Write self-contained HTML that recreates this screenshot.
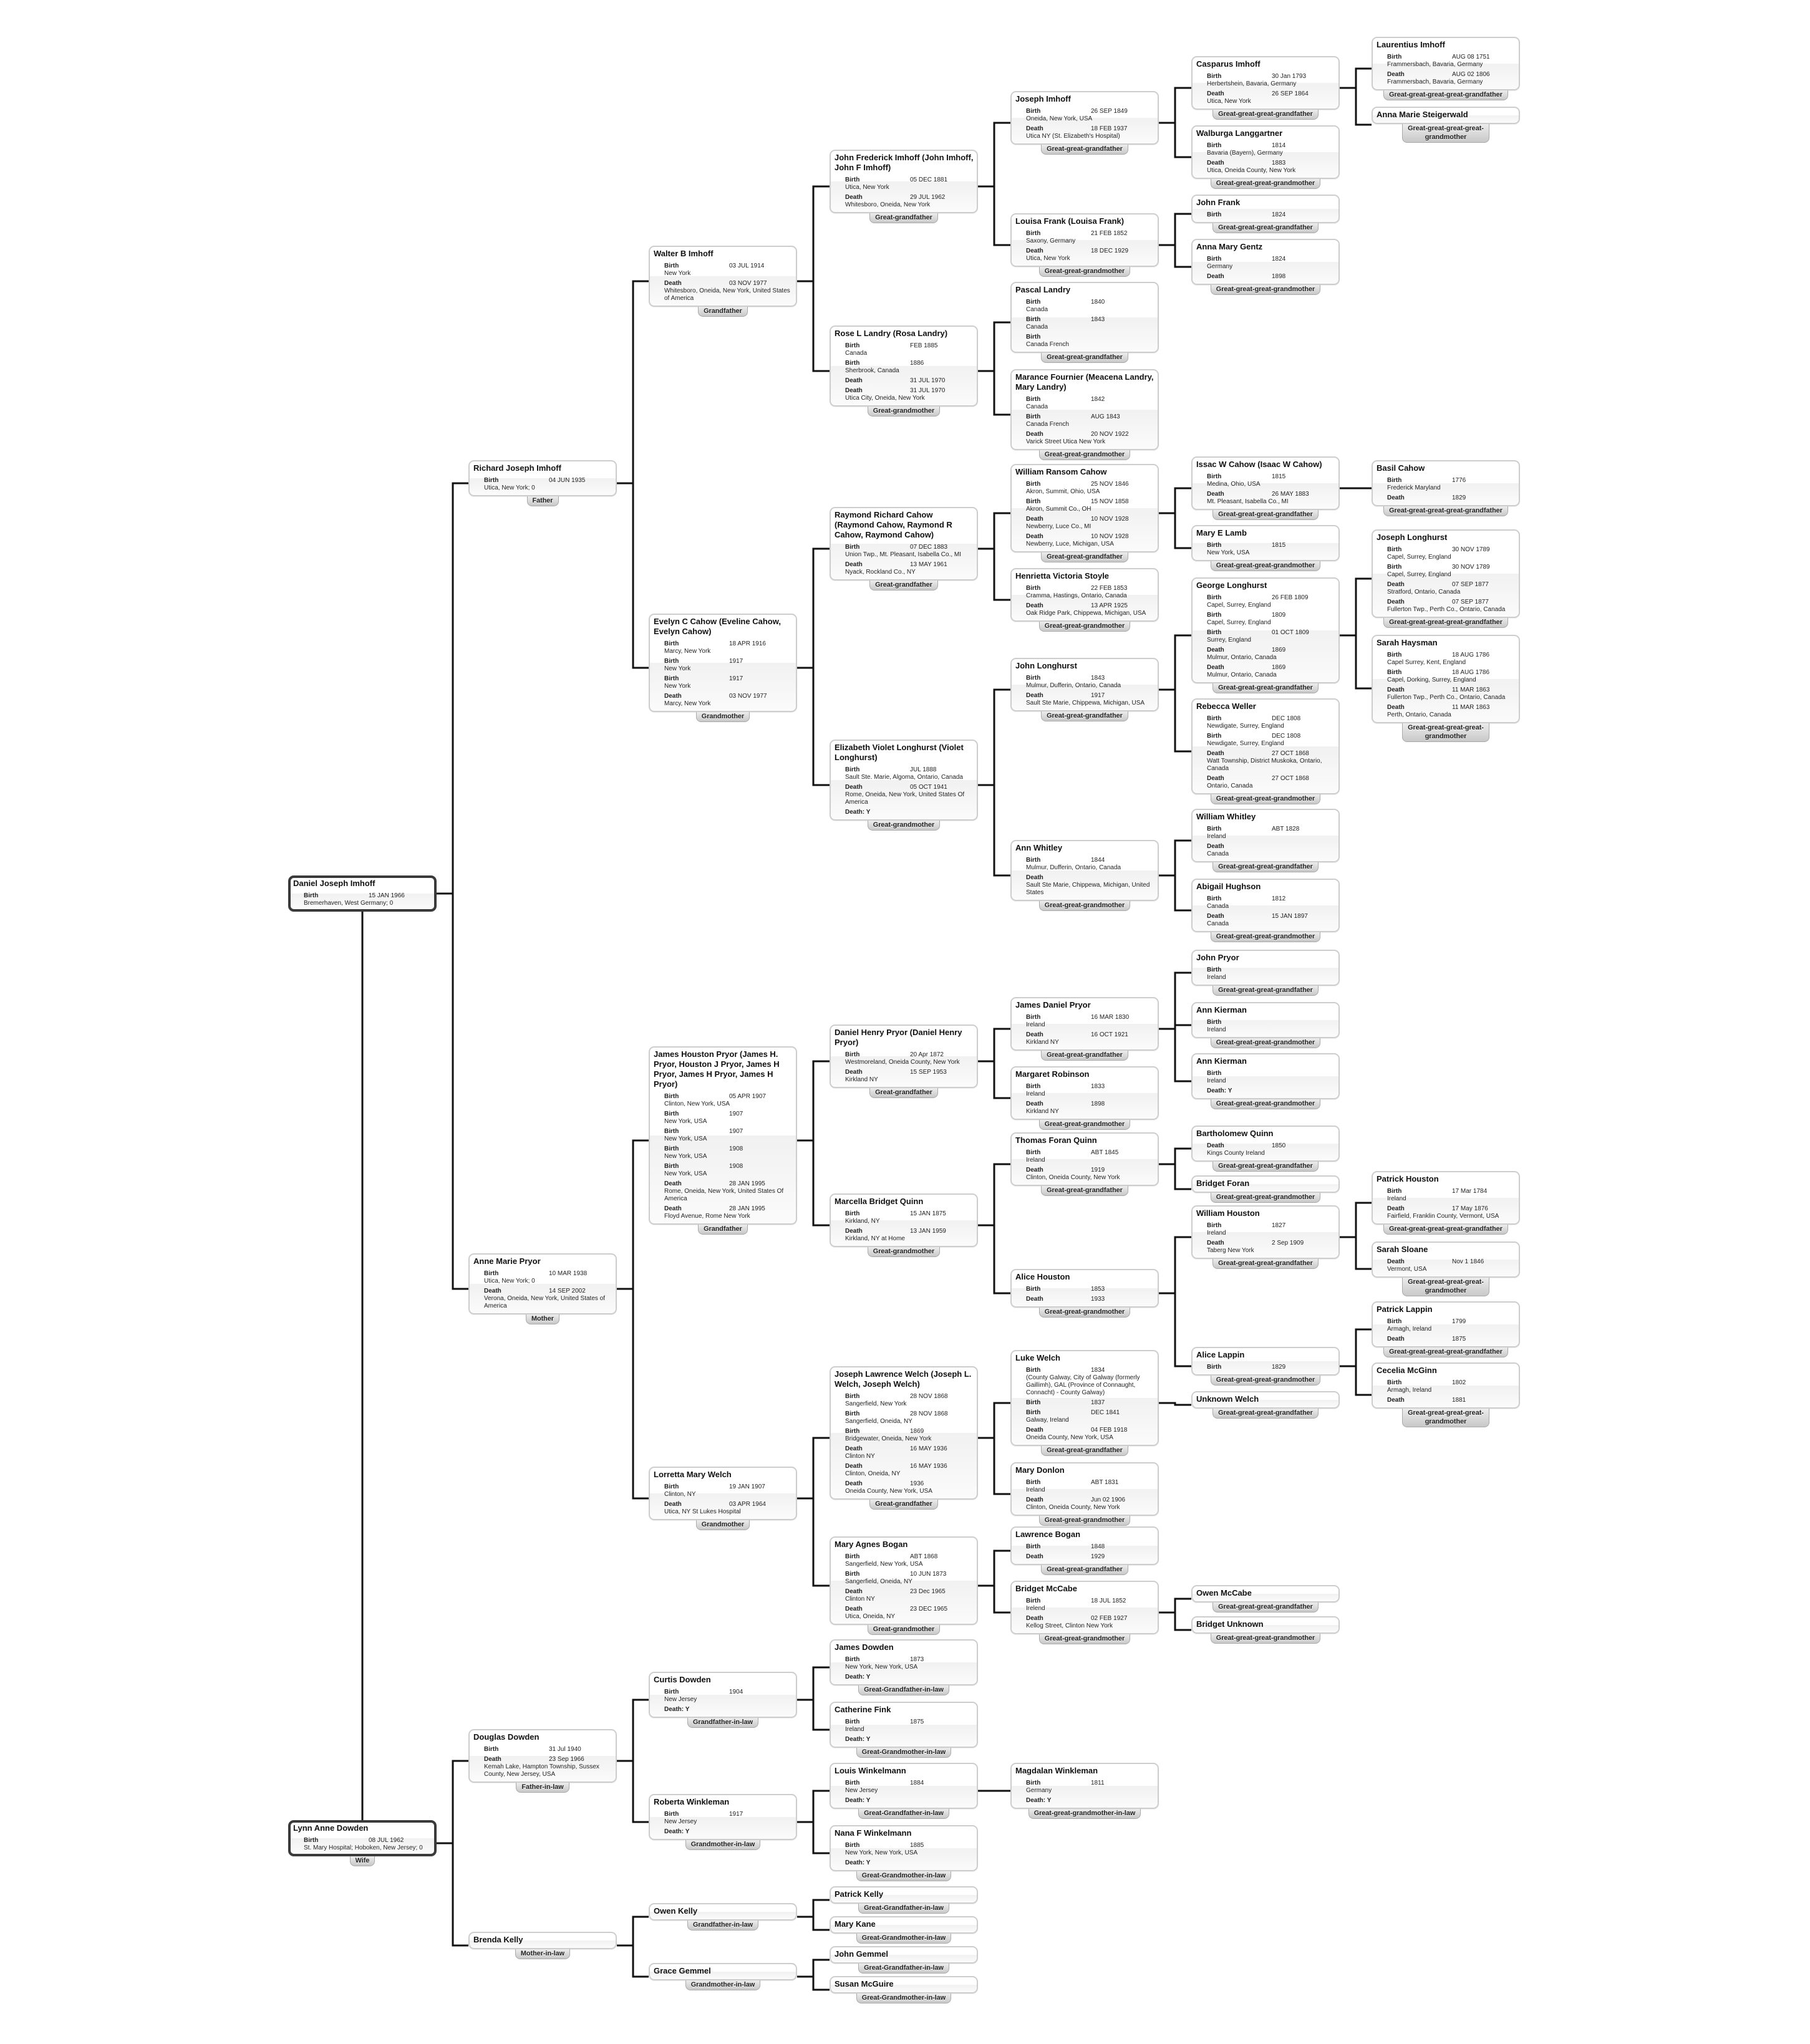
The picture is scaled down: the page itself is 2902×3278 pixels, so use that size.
<!DOCTYPE html>
<html><head><meta charset="utf-8">
<style>
html,body{margin:0;padding:0;background:#fff;}
body{width:2902px;height:3278px;position:relative;overflow:hidden;font-family:"Liberation Sans",Arial,sans-serif;color:#111;}
svg{position:absolute;left:0;top:0;}
.p{position:absolute;width:238px;z-index:2;}
.c{box-sizing:border-box;width:238px;border:2px solid #cdcdcd;border-radius:9px;background:linear-gradient(#fff 0,#fff 50%,#f1f1f1 50%,#fbfbfb 100%);padding:3px 5px 5px 6px;box-shadow:0 1px 1px rgba(0,0,0,.08);}
.c.me{border:4px solid #3a3a3a;padding:1px 3px 3px 4px;}
.n{font-weight:bold;font-size:13px;line-height:16px;}
.ev{padding-left:17px;font-size:10px;line-height:12px;color:#222;}
.e{margin-top:4px;}
.e:first-child{margin-top:6px;}
.l{display:inline-block;width:104px;font-weight:bold;}
.t{text-align:center;line-height:0;}
.tag{display:inline-block;font-size:10.8px;font-weight:bold;line-height:14px;padding:0 8px 1px;background:linear-gradient(#ececec,#c8c8c8);border:1px solid #a9a9a9;border-top:none;border-radius:0 0 8px 8px;color:#222;text-shadow:0 1px 0 #fff;max-width:200px;}
</style></head><body>
<svg id="s" width="2902" height="3278"></svg>
<div id="root"></div>
<script>
var X=[462,751,1040,1330,1620,1910,2199];
var P=[
["daniel",0,1404,"Daniel Joseph Imhoff","","Birth|15 JAN 1966|Bremerhaven, West Germany; 0"],
["lynn",0,2919,"Lynn Anne Dowden","Wife","Birth|08 JUL 1962|St. Mary Hospital; Hoboken, New Jersey; 0"],
["richard",1,738,"Richard Joseph Imhoff","Father","Birth|04 JUN 1935|Utica, New York; 0"],
["anne",1,2010,"Anne Marie Pryor","Mother","Birth|10 MAR 1938|Utica, New York; 0~Death|14 SEP 2002|Verona, Oneida, New York, United States of America"],
["douglas",1,2773,"Douglas Dowden","Father-in-law","Birth|31 Jul 1940|~Death|23 Sep 1966|Kemah Lake, Hampton Township, Sussex County, New Jersey, USA"],
["brenda",1,3098,"Brenda Kelly","Mother-in-law",""],
["walter",2,394,"Walter B Imhoff","Grandfather","Birth|03 JUL 1914|New York~Death|03 NOV 1977|Whitesboro, Oneida, New York, United States of America"],
["evelyn",2,984,"Evelyn C Cahow (Eveline Cahow, Evelyn Cahow)","Grandmother","Birth|18 APR 1916|Marcy, New York~Birth|1917|New York~Birth|1917|New York~Death|03 NOV 1977|Marcy, New York"],
["jhp",2,1678,"James Houston Pryor (James H. Pryor, Houston J Pryor, James H Pryor, James H Pryor, James H Pryor)","Grandfather","Birth|05 APR 1907|Clinton, New York, USA~Birth|1907|New York, USA~Birth|1907|New York, USA~Birth|1908|New York, USA~Birth|1908|New York, USA~Death|28 JAN 1995|Rome, Oneida, New York, United States Of America~Death|28 JAN 1995|Floyd Avenue, Rome New York"],
["lorretta",2,2352,"Lorretta Mary Welch","Grandmother","Birth|19 JAN 1907|Clinton, NY~Death|03 APR 1964|Utica, NY St Lukes Hospital"],
["curtis",2,2681,"Curtis Dowden","Grandfather-in-law","Birth|1904|New Jersey~Death: Y"],
["roberta",2,2877,"Roberta Winkleman","Grandmother-in-law","Birth|1917|New Jersey~Death: Y"],
["owen",2,3052,"Owen Kelly","Grandfather-in-law",""],
["grace",2,3148,"Grace Gemmel","Grandmother-in-law",""],
["jfi",3,240,"John Frederick Imhoff (John Imhoff, John F Imhoff)","Great-grandfather","Birth|05 DEC 1881|Utica, New York~Death|29 JUL 1962|Whitesboro, Oneida, New York"],
["rose",3,522,"Rose L Landry (Rosa Landry)","Great-grandmother","Birth|FEB 1885|Canada~Birth|1886|Sherbrook, Canada~Death|31 JUL 1970|~Death|31 JUL 1970|Utica City, Oneida, New York"],
["raymond",3,813,"Raymond Richard Cahow (Raymond Cahow, Raymond R Cahow, Raymond Cahow)","Great-grandfather","Birth|07 DEC 1883|Union Twp., Mt. Pleasant, Isabella Co., MI~Death|13 MAY 1961|Nyack, Rockland Co., NY"],
["elizabeth",3,1186,"Elizabeth Violet Longhurst (Violet Longhurst)","Great-grandmother","Birth|JUL 1888|Sault Ste. Marie, Algoma, Ontario, Canada~Death|05 OCT 1941|Rome, Oneida, New York, United States Of America~Death: Y"],
["dhp",3,1643,"Daniel Henry Pryor (Daniel Henry Pryor)","Great-grandfather","Birth|20 Apr 1872|Westmoreland, Oneida County, New York~Death|15 SEP 1953|Kirkland NY"],
["marcella",3,1914,"Marcella Bridget Quinn","Great-grandmother","Birth|15 JAN 1875|Kirkland, NY~Death|13 JAN 1959|Kirkland, NY at Home"],
["jlw",3,2191,"Joseph Lawrence Welch (Joseph L. Welch, Joseph Welch)","Great-grandfather","Birth|28 NOV 1868|Sangerfield, New York~Birth|28 NOV 1868|Sangerfield, Oneida, NY~Birth|1869|Bridgewater, Oneida, New York~Death|16 MAY 1936|Clinton NY~Death|16 MAY 1936|Clinton, Oneida, NY~Death|1936|Oneida County, New York, USA"],
["mab",3,2464,"Mary Agnes Bogan","Great-grandmother","Birth|ABT 1868|Sangerfield, New York, USA~Birth|10 JUN 1873|Sangerfield, Oneida, NY~Death|23 Dec 1965|Clinton NY~Death|23 DEC 1965|Utica, Oneida, NY"],
["jdowden",3,2629,"James Dowden","Great-Grandfather-in-law","Birth|1873|New York, New York, USA~Death: Y"],
["cfink",3,2729,"Catherine Fink","Great-Grandmother-in-law","Birth|1875|Ireland~Death: Y"],
["louis",3,2827,"Louis Winkelmann","Great-Grandfather-in-law","Birth|1884|New Jersey~Death: Y"],
["nana",3,2927,"Nana F Winkelmann","Great-Grandmother-in-law","Birth|1885|New York, New York, USA~Death: Y"],
["pkelly",3,3025,"Patrick Kelly","Great-Grandfather-in-law",""],
["mkane",3,3073,"Mary Kane","Great-Grandmother-in-law",""],
["jgemmel",3,3121,"John Gemmel","Great-Grandfather-in-law",""],
["smcguire",3,3169,"Susan McGuire","Great-Grandmother-in-law",""],
["jimhoff",4,146,"Joseph Imhoff","Great-great-grandfather","Birth|26 SEP 1849|Oneida, New York, USA~Death|18 FEB 1937|Utica NY (St. Elizabeth's Hospital)"],
["louisa",4,342,"Louisa Frank (Louisa Frank)","Great-great-grandmother","Birth|21 FEB 1852|Saxony, Germany~Death|18 DEC 1929|Utica, New York"],
["pascal",4,452,"Pascal Landry","Great-great-grandfather","Birth|1840|Canada~Birth|1843|Canada~Birth||Canada French"],
["marance",4,592,"Marance Fournier (Meacena Landry, Mary Landry)","Great-great-grandmother","Birth|1842|Canada~Birth|AUG 1843|Canada French~Death|20 NOV 1922|Varick Street Utica New York"],
["wrc",4,744,"William Ransom Cahow","Great-great-grandfather","Birth|25 NOV 1846|Akron, Summit, Ohio, USA~Birth|15 NOV 1858|Akron, Summit Co., OH~Death|10 NOV 1928|Newberry, Luce Co., MI~Death|10 NOV 1928|Newberry, Luce, Michigan, USA"],
["hvs",4,911,"Henrietta Victoria Stoyle","Great-great-grandmother","Birth|22 FEB 1853|Cramma, Hastings, Ontario, Canada~Death|13 APR 1925|Oak Ridge Park, Chippewa, Michigan, USA"],
["jlong",4,1055,"John Longhurst","Great-great-grandfather","Birth|1843|Mulmur, Dufferin, Ontario, Canada~Death|1917|Sault Ste Marie, Chippewa, Michigan, USA"],
["awhit",4,1347,"Ann Whitley","Great-great-grandmother","Birth|1844|Mulmur, Dufferin, Ontario, Canada~Death||Sault Ste Marie, Chippewa, Michigan, United States"],
["jdp",4,1599,"James Daniel Pryor","Great-great-grandfather","Birth|16 MAR 1830|Ireland~Death|16 OCT 1921|Kirkland NY"],
["margaret",4,1710,"Margaret Robinson","Great-great-grandmother","Birth|1833|Ireland~Death|1898|Kirkland NY"],
["tfq",4,1816,"Thomas Foran Quinn","Great-great-grandfather","Birth|ABT 1845|Ireland~Death|1919|Clinton, Oneida County, New York"],
["ahouston",4,2035,"Alice Houston","Great-great-grandmother","Birth|1853|~Death|1933|"],
["luke",4,2165,"Luke Welch","Great-great-grandfather","Birth|1834|(County Galway, City of Galway (formerly Gaillimh), GAL (Province of Connaught, Connacht) - County Galway)~Birth|1837|~Birth|DEC 1841|Galway, Ireland~Death|04 FEB 1918|Oneida County, New York, USA"],
["mdonlon",4,2345,"Mary Donlon","Great-great-grandmother","Birth|ABT 1831|Ireland~Death|Jun 02 1906|Clinton, Oneida County, New York"],
["lbogan",4,2448,"Lawrence Bogan","Great-great-grandfather","Birth|1848|~Death|1929|"],
["bmccabe",4,2535,"Bridget McCabe","Great-great-grandmother","Birth|18 JUL 1852|Irelend~Death|02 FEB 1927|Kellog Street, Clinton New York"],
["magdalan",4,2827,"Magdalan Winkleman","Great-great-grandmother-in-law","Birth|1811|Germany~Death: Y"],
["casparus",5,90,"Casparus Imhoff","Great-great-great-grandfather","Birth|30 Jan 1793|Herbertshein, Bavaria, Germany~Death|26 SEP 1864|Utica, New York"],
["walburga",5,201,"Walburga Langgartner","Great-great-great-grandmother","Birth|1814|Bavaria (Bayern), Germany~Death|1883|Utica, Oneida County, New York"],
["jfrank",5,312,"John Frank","Great-great-great-grandfather","Birth|1824|"],
["amgentz",5,383,"Anna Mary Gentz","Great-great-great-grandmother","Birth|1824|Germany~Death|1898|"],
["issac",5,732,"Issac W Cahow (Isaac W Cahow)","Great-great-great-grandfather","Birth|1815|Medina, Ohio, USA~Death|26 MAY 1883|Mt. Pleasant, Isabella Co., MI"],
["melamb",5,842,"Mary E Lamb","Great-great-great-grandmother","Birth|1815|New York, USA"],
["george",5,926,"George Longhurst","Great-great-great-grandfather","Birth|26 FEB 1809|Capel, Surrey, England~Birth|1809|Capel, Surrey, England~Birth|01 OCT 1809|Surrey, England~Death|1869|Mulmur, Ontario, Canada~Death|1869|Mulmur, Ontario, Canada"],
["rebecca",5,1120,"Rebecca Weller","Great-great-great-grandmother","Birth|DEC 1808|Newdigate, Surrey, England~Birth|DEC 1808|Newdigate, Surrey, England~Death|27 OCT 1868|Watt Township, District Muskoka, Ontario, Canada~Death|27 OCT 1868|Ontario, Canada"],
["wwhit",5,1297,"William Whitley","Great-great-great-grandfather","Birth|ABT 1828|Ireland~Death||Canada"],
["abigail",5,1409,"Abigail Hughson","Great-great-great-grandmother","Birth|1812|Canada~Death|15 JAN 1897|Canada"],
["jpryor",5,1523,"John Pryor","Great-great-great-grandfather","Birth||Ireland"],
["ak1",5,1607,"Ann Kierman","Great-great-great-grandmother","Birth||Ireland"],
["ak2",5,1689,"Ann Kierman","Great-great-great-grandmother","Birth||Ireland~Death: Y"],
["bquinn",5,1805,"Bartholomew Quinn","Great-great-great-grandfather","Death|1850|Kings County Ireland"],
["bforan",5,1885,"Bridget Foran","Great-great-great-grandmother",""],
["whouston",5,1933,"William Houston","Great-great-great-grandfather","Birth|1827|Ireland~Death|2 Sep 1909|Taberg New York"],
["alappin",5,2160,"Alice Lappin","Great-great-great-grandmother","Birth|1829|"],
["uwelch",5,2231,"Unknown Welch","Great-great-great-grandfather",""],
["omccabe",5,2542,"Owen McCabe","Great-great-great-grandfather",""],
["bunknown",5,2592,"Bridget Unknown","Great-great-great-grandmother",""],
["laurentius",6,59,"Laurentius Imhoff","Great-great-great-great-grandfather","Birth|AUG 08 1751|Frammersbach, Bavaria, Germany~Death|AUG 02 1806|Frammersbach, Bavaria, Germany"],
["amsteig",6,171,"Anna Marie Steigerwald","Great-great-great-great-<br>grandmother",""],
["basil",6,738,"Basil Cahow","Great-great-great-great-grandfather","Birth|1776|Frederick Maryland~Death|1829|"],
["jlonghurst",6,849,"Joseph Longhurst","Great-great-great-great-grandfather","Birth|30 NOV 1789|Capel, Surrey, England~Birth|30 NOV 1789|Capel, Surrey, England~Death|07 SEP 1877|Stratford, Ontario, Canada~Death|07 SEP 1877|Fullerton Twp., Perth Co., Ontario, Canada"],
["shaysman",6,1018,"Sarah Haysman","Great-great-great-great-<br>grandmother","Birth|18 AUG 1786|Capel Surrey, Kent, England~Birth|18 AUG 1786|Capel, Dorking, Surrey, England~Death|11 MAR 1863|Fullerton Twp., Perth Co., Ontario, Canada~Death|11 MAR 1863|Perth, Ontario, Canada"],
["phouston",6,1878,"Patrick Houston","Great-great-great-great-grandfather","Birth|17 Mar 1784|Ireland~Death|17 May 1876|Fairfield, Franklin County, Vermont, USA"],
["ssloane",6,1991,"Sarah Sloane","Great-great-great-great-<br>grandmother","Death|Nov 1 1846|Vermont, USA"],
["plappin",6,2087,"Patrick Lappin","Great-great-great-great-grandfather","Birth|1799|Armagh, Ireland~Death|1875|"],
["cmcginn",6,2185,"Cecelia McGinn","Great-great-great-great-<br>grandmother","Birth|1802|Armagh, Ireland~Death|1881|"]
];
var R=[["daniel","richard","anne"],["lynn","douglas","brenda"],["richard","walter","evelyn"],["anne","jhp","lorretta"],["douglas","curtis","roberta"],["brenda","owen","grace"],
["walter","jfi","rose"],["evelyn","raymond","elizabeth"],["jhp","dhp","marcella"],["lorretta","jlw","mab"],["curtis","jdowden","cfink"],["roberta","louis","nana"],["owen","pkelly","mkane"],["grace","jgemmel","smcguire"],
["jfi","jimhoff","louisa"],["rose","pascal","marance"],["raymond","wrc","hvs"],["elizabeth","jlong","awhit"],["dhp","jdp","margaret"],["marcella","tfq","ahouston"],["jlw","luke","mdonlon"],["mab","lbogan","bmccabe"],["louis","magdalan"],
["jimhoff","casparus","walburga"],["louisa","jfrank","amgentz"],["wrc","issac","melamb"],["jlong","george","rebecca"],["awhit","wwhit","abigail"],["jdp","jpryor","ak1","ak2"],["tfq","bquinn","bforan"],["ahouston","whouston","alappin"],["luke","uwelch"],["bmccabe","omccabe","bunknown"],
["casparus","laurentius","amsteig"],["issac","basil"],["george","jlonghurst","shaysman"],["whouston","phouston","ssloane"],["alappin","plappin","cmcginn"]];
var root=document.getElementById("root"),h="",C={};
P.forEach(function(p){
  C[p[0]]=p[1];
  var ev="";
  if(p[5]){p[5].split("~").forEach(function(e){
    if(e.indexOf("|")<0){ev+='<div class="e"><b>'+e+'</b></div>';return;}
    var a=e.split("|");
    ev+='<div class="e"><div><span class="l">'+a[0]+'</span>'+a[1]+'</div>'+(a[2]?'<div>'+a[2]+'</div>':'')+'</div>';
  });}
  var me=(p[0]=="daniel"||p[0]=="lynn")?" me":"";
  h+='<div class="p" id="'+p[0]+'" style="left:'+X[p[1]]+'px;top:'+p[2]+'px"><div class="c'+me+'"><div class="n">'+p[3]+'</div>'+(ev?'<div class="ev">'+ev+'</div>':'')+'</div>'+(p[4]?'<div class="t"><span class="tag">'+p[4]+'</span></div>':'')+'</div>';
});
root.innerHTML=h;
function mid(id){var e=document.getElementById(id);return e.offsetTop+e.offsetHeight/2;}
var L="";
function ln(x1,y1,x2,y2){L+='<line x1="'+x1+'" y1="'+y1+'" x2="'+x2+'" y2="'+y2+'"/>';}
R.forEach(function(r){
  var col=C[r[0]],cx=X[col]+238,nx=X[col+1],bx=Math.round((cx+nx)/2),yc=mid(r[0]);
  var ys=[yc];
  ln(cx,yc,bx,yc);
  for(var i=1;i<r.length;i++){var y=mid(r[i]);ys.push(y);ln(bx,y,nx,y);}
  ln(bx,Math.min.apply(null,ys)-1.5,bx,Math.max.apply(null,ys)+1.5);
});
var d=document.getElementById("daniel"),l=document.getElementById("lynn");
ln(581,d.offsetTop+d.offsetHeight,581,l.offsetTop);
document.getElementById("s").innerHTML='<g stroke="#111" stroke-width="3" fill="none">'+L+'</g>';
</script>
</body></html>
